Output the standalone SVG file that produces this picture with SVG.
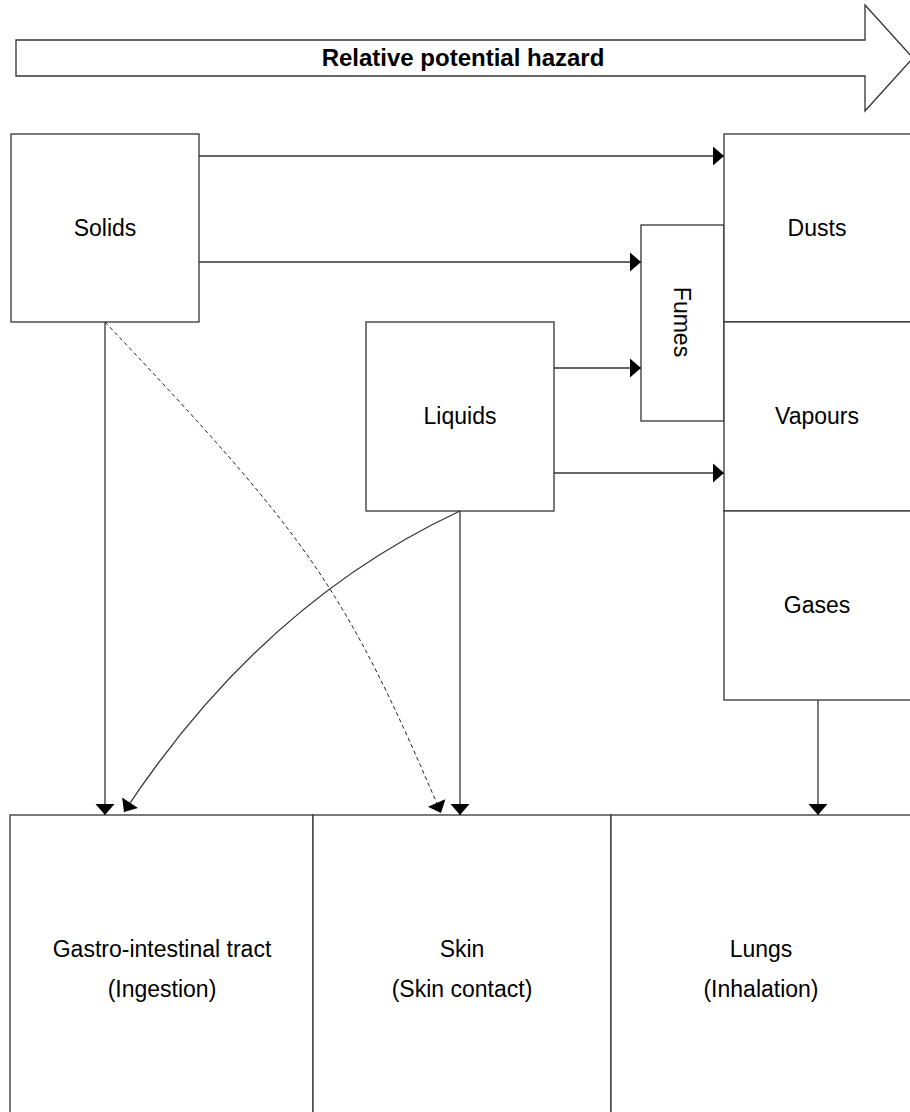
<svg xmlns="http://www.w3.org/2000/svg" width="910" height="1112" viewBox="0 0 910 1112">
<style>
.box{fill:#fff;stroke:#333;stroke-width:1.3}
.lbl{font-family:"Liberation Sans",Arial,sans-serif;font-size:23px;fill:#000;text-anchor:middle}
.title{font-family:"Liberation Sans",Arial,sans-serif;font-size:24px;font-weight:bold;fill:#000;text-anchor:middle}
.ln{fill:none;stroke:#333;stroke-width:1.3;marker-end:url(#ah)}
.dash{fill:none;stroke:#222;stroke-width:1;stroke-dasharray:4 3;marker-end:url(#ah)}
</style>
<defs>
<marker id="ah" markerUnits="userSpaceOnUse" markerWidth="12" markerHeight="20" refX="11" refY="9.5" orient="auto" overflow="visible">
<path d="M0,0 L11,9.5 L0,19 Z" fill="#000"/>
</marker>
</defs>
<rect width="910" height="1112" fill="#fff"/>
<g id="hazard-arrow">
<polygon class="box" points="16,40 865,40 865,5 913,58 865,111 865,76 16,76"/>
<text class="title" x="463" y="66">Relative potential hazard</text>
</g>
<g id="solids">
<rect class="box" x="11" y="134" width="188" height="188"/>
<text class="lbl" x="105" y="236">Solids</text>
</g>
<g id="liquids">
<rect class="box" x="366" y="322" width="188" height="189"/>
<text class="lbl" x="460" y="424">Liquids</text>
</g>
<g id="fumes">
<rect class="box" x="641" y="225" width="83" height="196"/>
<text class="lbl" transform="translate(682,322) rotate(90)" x="0" y="8">Fumes</text>
</g>
<g id="dusts">
<rect class="box" x="724" y="134" width="190" height="188"/>
<text class="lbl" x="817" y="236">Dusts</text>
</g>
<g id="vapours">
<rect class="box" x="724" y="322" width="190" height="189"/>
<text class="lbl" x="817" y="424">Vapours</text>
</g>
<g id="gases">
<rect class="box" x="724" y="511" width="190" height="189"/>
<text class="lbl" x="817" y="613">Gases</text>
</g>
<g id="gastro">
<rect class="box" x="10" y="815" width="303" height="310"/>
<text class="lbl" x="162" y="957">Gastro-intestinal tract</text>
<text class="lbl" x="162" y="997">(Ingestion)</text>
</g>
<g id="skin">
<rect class="box" x="313" y="815" width="298" height="310"/>
<text class="lbl" x="462" y="957">Skin</text>
<text class="lbl" x="462" y="997">(Skin contact)</text>
</g>
<g id="lungs">
<rect class="box" x="611" y="815" width="302" height="310"/>
<text class="lbl" x="761" y="957">Lungs</text>
<text class="lbl" x="761" y="997">(Inhalation)</text>
</g>
<g id="connectors">
<path class="ln" d="M199,156 H724"/>
<path class="ln" d="M199,262 H641"/>
<path class="ln" d="M554,368 H641"/>
<path class="ln" d="M554,473 H724"/>
<path class="ln" d="M105,322 V815"/>
<path class="ln" d="M460,511 V815"/>
<path class="ln" d="M818,700 V815"/>
<path class="ln" d="M460,511 Q261.6,603.3 124,812"/>
<path class="dash" d="M105,322 C311,540 345,589 441,813"/>
</g>
</svg>
